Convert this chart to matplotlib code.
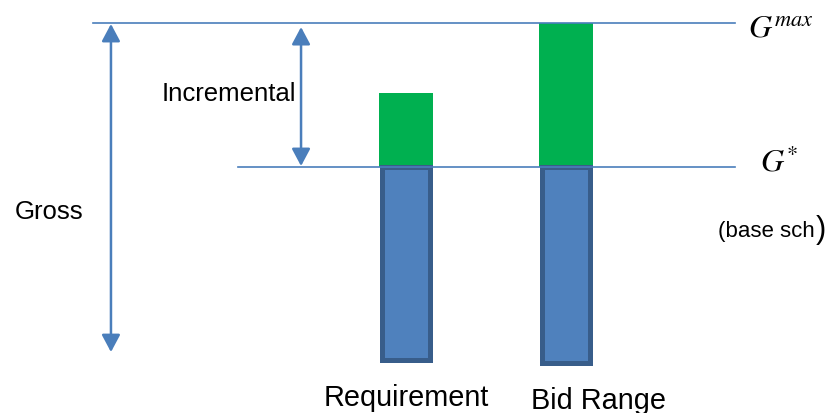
import matplotlib
matplotlib.use("Agg")
import matplotlib.pyplot as plt

# Data (generation units, G* = 100)
categories = ["Requirement", "Bid Range"]
base_bottom = [-0.5, -2.1]
g_star = 100
g_max = 175
totals = [138.5, 175]

LINE_COLOR = "#4a7ebb"
BLUE = "#4f81bd"
BLUE_EDGE = "#385d8a"
GREEN = "#00b050"

fig = plt.figure(figsize=(8.33, 4.14), dpi=100)
ax = fig.add_axes([0, 0, 1, 1])
ax.set_xlim(-2.5375, 2.66875)
ax.set_ylim(-28.125, 187.5)
ax.axis("off")

x = list(range(len(categories)))

# green incremental part, then blue base part
incr = [t - g_star for t in totals]
ax.bar(x, incr, bottom=g_star, width=0.3375, color=GREEN, zorder=2)
base_h = [g_star - b for b in base_bottom]
ax.bar(x, base_h, bottom=base_bottom, width=0.306, color=BLUE,
       edgecolor=BLUE_EDGE, linewidth=3.6, zorder=2)

# reference lines
ax.plot([-1.956, 2.056], [g_max, g_max], color=LINE_COLOR, lw=1.2, zorder=3)
ax.plot([-1.05, 2.056], [g_star, g_star], color=LINE_COLOR, lw=1.2, zorder=3)

# arrows
arrow_kw = dict(arrowstyle="<|-|>,head_length=0.75,head_width=0.4",
                mutation_scale=14, shrinkA=0, shrinkB=0, lw=1.8,
                color=LINE_COLOR)
ax.annotate("", xy=(-1.844, 174.5), xytext=(-1.844, 3.6), arrowprops=arrow_kw)
ax.annotate("", xy=(-0.656, 172.9), xytext=(-0.656, 100.5), arrowprops=arrow_kw)

font = "Liberation Sans"
ax.text(-2.444, 77, "Gross", fontsize=18.5, family=font, ha="left", va="center")
ax.text(-1.106, 138.5, "Incremental", fontsize=18.5, family=font,
        ha="center", va="center")
# category labels (the second one sits a bit right of its bar)
label_shift = [0.0, 0.206]
for xi, lab, dx, yy in zip(x, categories, label_shift, [-20.0, -21.5]):
    ax.text(xi + dx, yy, lab, fontsize=20.8, family=font,
            ha="center", va="center")

plt.rcParams["mathtext.fontset"] = "stix"
ax.text(2.1375, 172.5, r"$G^{max}$", fontsize=23, ha="left", va="center")
ax.text(2.2125, 102.6, r"$G^{*}$", fontsize=23, ha="left", va="center")
ax.text(1.95, 66.7, "(base sch", fontsize=16, family=font, ha="left", va="center")
ax.text(2.56, 67.5, ")", fontsize=22, family=font, ha="left", va="center")

fig.savefig("out.png", dpi=100)
